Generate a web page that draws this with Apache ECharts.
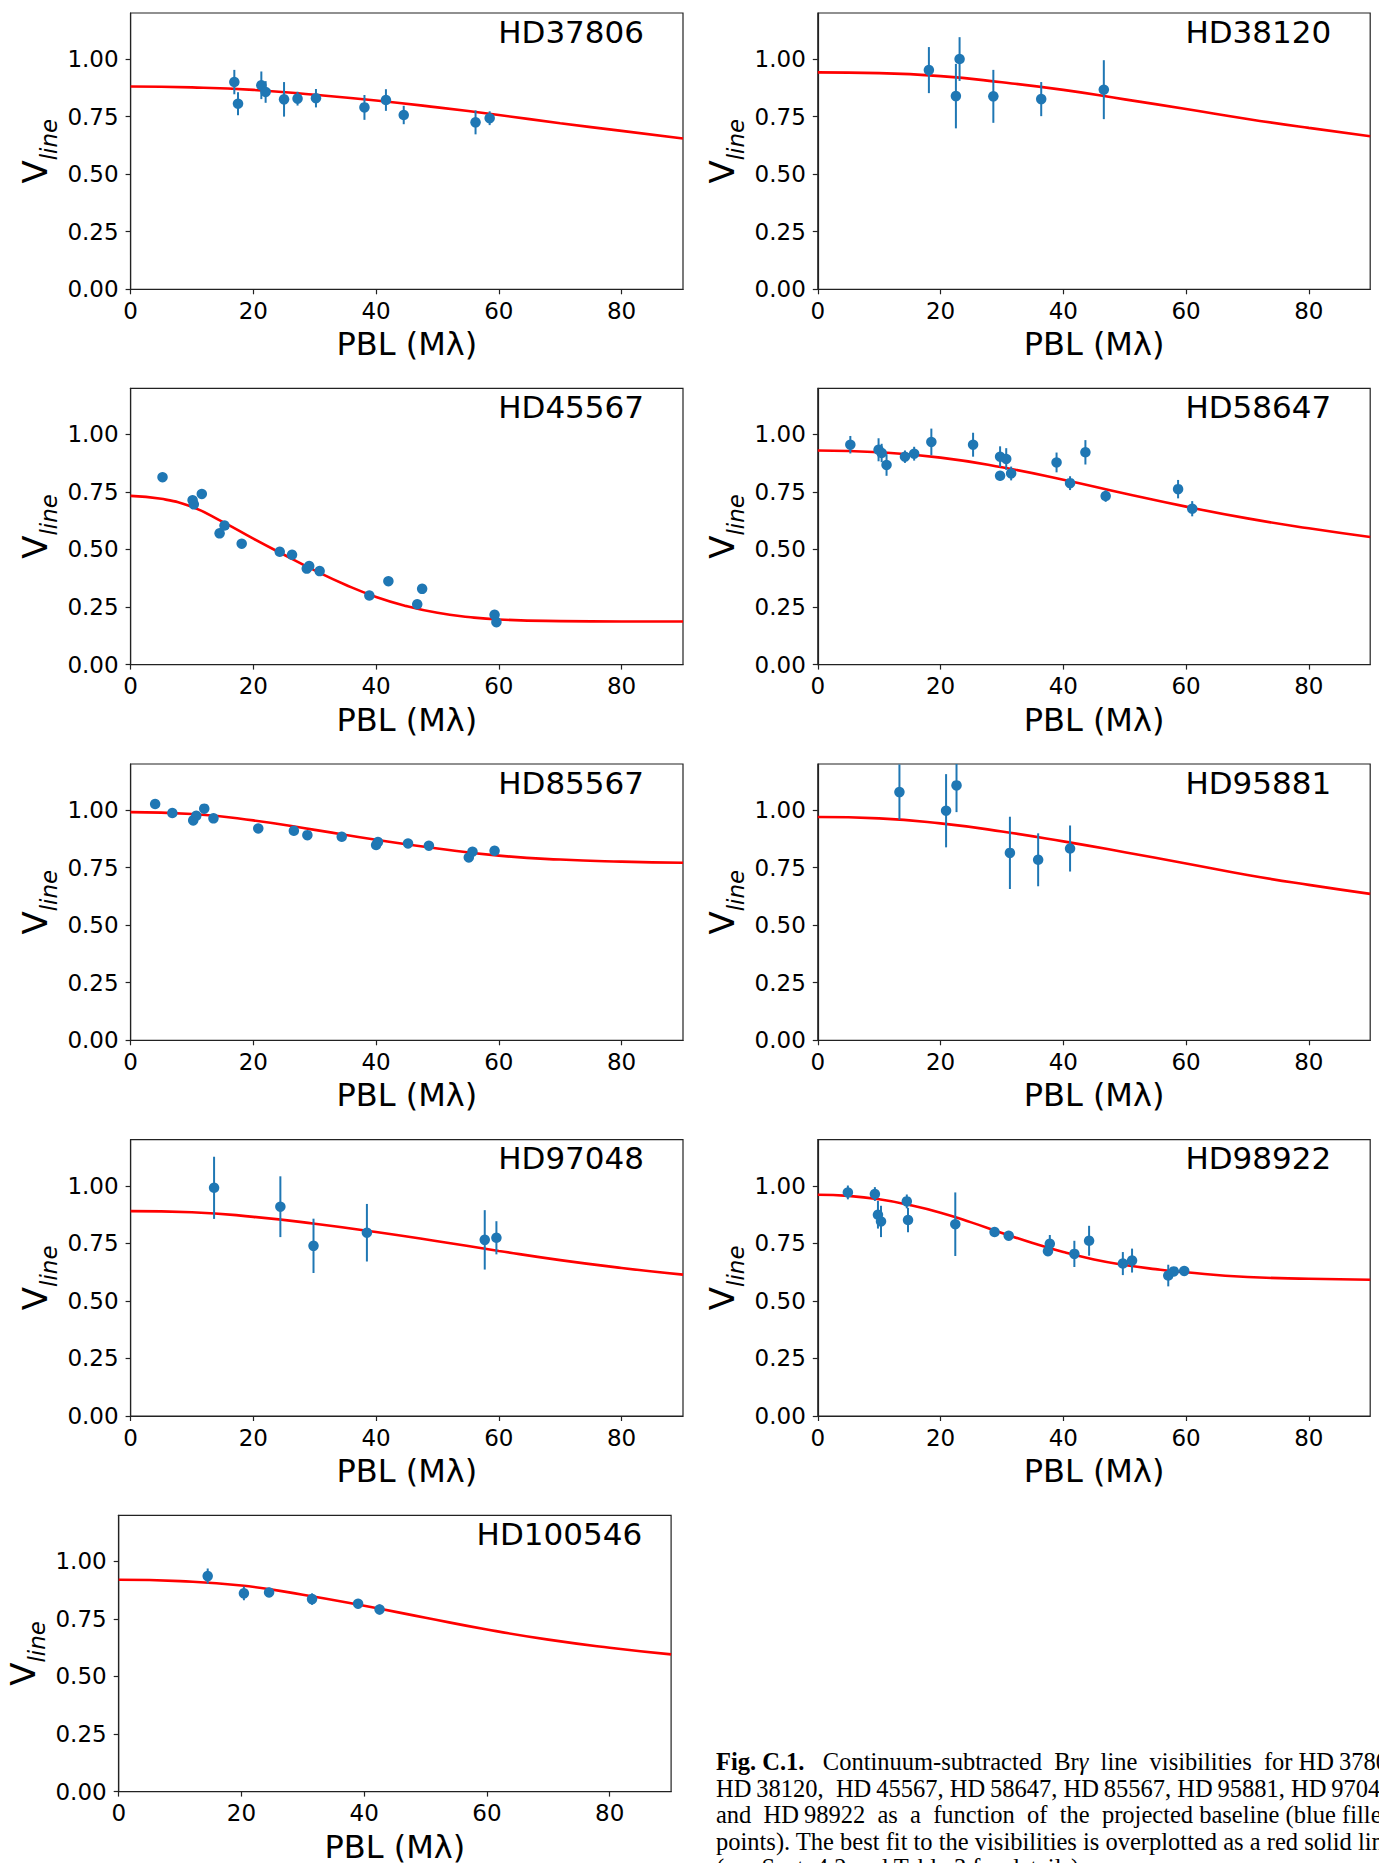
<!DOCTYPE html>
<html>
<head>
<meta charset="utf-8">
<script src="https://cdn.jsdelivr.net/npm/echarts@6/dist/echarts.min.js"></script>
<style>
html,body{margin:0;padding:0;background:#fff;}
#chart{width:1379px;height:1863px;}
</style>
</head>
<body>
<div id="chart"></div>
<script>
// ---------- tick values ----------
const xTicks = [0, 20, 40, 60, 80];
const yTicks = [0, 0.25, 0.5, 0.75, 1.0];
const fitX10 = [0, 10, 20, 30, 40, 50, 60, 70, 80, 90];
const fitX5 = [0, 5, 10, 15, 20, 25, 30, 35, 40, 45, 50, 55, 60, 70, 80, 90];

// ---------- HD37806 ----------
const hd37806_pbl = [16.9, 17.5, 21.3, 22.0, 25.0, 27.2, 30.2, 38.1, 41.6, 44.5, 56.2, 58.5];
const hd37806_v   = [0.900, 0.806, 0.886, 0.857, 0.825, 0.828, 0.830, 0.790, 0.822, 0.757, 0.725, 0.743];
const hd37806_err = [0.053, 0.050, 0.060, 0.047, 0.075, 0.030, 0.040, 0.054, 0.047, 0.040, 0.052, 0.030];
const hd37806_fit = [0.881, 0.877, 0.866, 0.845, 0.820, 0.790, 0.757, 0.721, 0.688, 0.655];

// ---------- HD38120 ----------
const hd38120_pbl = [18.1, 22.5, 23.1, 28.6, 36.4, 46.6];
const hd38120_v   = [0.952, 0.839, 1.000, 0.838, 0.826, 0.867];
const hd38120_err = [0.100, 0.140, 0.095, 0.115, 0.074, 0.128];
const hd38120_fit = [0.942, 0.939, 0.926, 0.899, 0.866, 0.825, 0.783, 0.740, 0.701, 0.665];

// ---------- HD45567 ----------
const hd45567_pbl = [5.2, 10.1, 10.3, 11.6, 14.5, 15.3, 18.1, 24.3, 26.3, 28.7, 29.1, 30.8, 38.9, 42.0, 46.7, 47.5, 59.3, 59.6];
const hd45567_v   = [0.814, 0.714, 0.696, 0.741, 0.570, 0.604, 0.525, 0.490, 0.477, 0.417, 0.428, 0.406, 0.300, 0.362, 0.262, 0.329, 0.216, 0.184];
const hd45567_fit = [0.733, 0.720, 0.685, 0.620, 0.547, 0.477, 0.409, 0.347, 0.294, 0.254, 0.225, 0.207, 0.196, 0.189, 0.187, 0.187];

// ---------- HD58647 ----------
const hd58647_pbl = [5.3, 9.9, 10.4, 11.2, 14.2, 15.7, 18.5, 25.3, 29.7, 29.7, 30.7, 31.5, 38.9, 41.1, 43.6, 46.9, 58.7, 61.0];
const hd58647_v   = [0.955, 0.933, 0.919, 0.867, 0.903, 0.916, 0.967, 0.955, 0.903, 0.820, 0.893, 0.830, 0.878, 0.788, 0.922, 0.732, 0.762, 0.677];
const hd58647_err = [0.038, 0.050, 0.040, 0.047, 0.027, 0.030, 0.058, 0.052, 0.045, 0.020, 0.047, 0.030, 0.043, 0.030, 0.053, 0.025, 0.040, 0.033];
const hd58647_fit = [0.930, 0.922, 0.899, 0.857, 0.803, 0.743, 0.686, 0.635, 0.592, 0.554];

// ---------- HD85567 ----------
const hd85567_pbl = [4.0, 6.8, 10.2, 10.7, 12.0, 13.5, 20.8, 26.6, 28.8, 34.4, 40.0, 40.3, 45.2, 48.6, 55.1, 55.7, 59.3];
const hd85567_v   = [1.026, 0.987, 0.955, 0.975, 1.006, 0.964, 0.920, 0.910, 0.891, 0.884, 0.848, 0.861, 0.855, 0.845, 0.794, 0.819, 0.823];
const hd85567_fit = [0.991, 0.983, 0.955, 0.914, 0.871, 0.833, 0.802, 0.785, 0.776, 0.771];

// ---------- HD95881 ----------
const hd95881_pbl = [13.3, 20.9, 22.6, 31.3, 35.9, 41.1];
const hd95881_v   = [1.078, 0.997, 1.107, 0.814, 0.784, 0.833];
const hd95881_err = [0.120, 0.159, 0.116, 0.157, 0.115, 0.100];
const hd95881_fit = [0.970, 0.964, 0.942, 0.907, 0.864, 0.817, 0.768, 0.718, 0.675, 0.636];

// ---------- HD97048 ----------
const hd97048_pbl = [13.6, 24.4, 29.8, 38.5, 57.7, 59.6];
const hd97048_v   = [0.991, 0.909, 0.739, 0.796, 0.765, 0.774];
const hd97048_err = [0.135, 0.132, 0.118, 0.125, 0.129, 0.072];
const hd97048_fit = [0.890, 0.885, 0.865, 0.835, 0.799, 0.759, 0.717, 0.677, 0.643, 0.614];

// ---------- HD98922 ----------
const hd98922_pbl = [4.9, 9.3, 9.8, 10.3, 14.5, 14.7, 22.4, 28.8, 31.1, 37.5, 37.8, 41.8, 44.2, 49.7, 51.2, 57.1, 58.0, 59.7];
const hd98922_v   = [0.971, 0.964, 0.874, 0.845, 0.932, 0.851, 0.833, 0.799, 0.783, 0.716, 0.748, 0.704, 0.761, 0.662, 0.675, 0.610, 0.628, 0.630];
const hd98922_err = [0.030, 0.030, 0.060, 0.068, 0.030, 0.053, 0.138, 0.018, 0.015, 0.020, 0.038, 0.057, 0.065, 0.050, 0.052, 0.047, 0.018, 0.015];
const hd98922_fit = [0.961, 0.956, 0.941, 0.916, 0.883, 0.841, 0.795, 0.751, 0.712, 0.680, 0.656, 0.638, 0.624, 0.604, 0.596, 0.592];

// ---------- HD100546 ----------
const hd100546_pbl = [14.5, 20.4, 24.5, 31.5, 39.0, 42.5];
const hd100546_v   = [0.936, 0.861, 0.865, 0.836, 0.816, 0.791];
const hd100546_err = [0.033, 0.030, 0.020, 0.025, 0.020, 0.022];
const hd100546_fit = [0.920, 0.914, 0.895, 0.855, 0.807, 0.755, 0.704, 0.660, 0.625, 0.596];

// ---------- caption ----------
const captionLines = [
  '{b|Fig. C.1.}   Continuum-subtracted  Br{i|γ}  line  visibilities  for HD\u200937806,',
  'HD\u200938120,  HD\u200945567, HD\u200958647, HD\u200985567, HD\u200995881, HD\u200997048,',
  'and  HD\u200998922  as  a  function  of  the  projected baseline (blue filled',
  'points). The best fit to the visibilities is overplotted as a red solid line',
  '(see Sect. 4.2 and Table 3 for details).'
];

// ---------- layout (styles/positions) ----------
const X_MIN = 0, X_MAX = 90, Y_MIN = 0, Y_MAX = 1.2;
const PW = 552.4, PH = 276.3;
const colLeft = [130.6, 817.8];
const rowTop = [13, 388.3, 764, 1139.7, 1515.3];
const BLUE = '#1f77b4', RED = '#ff0000', AX = '#222222';

const panels = [
  {name: 'HD37806',  x: hd37806_pbl,  v: hd37806_v,  err: hd37806_err,  fx: fitX10, fv: hd37806_fit,  left: colLeft[0], top: rowTop[0], tOff: 39},
  {name: 'HD38120',  x: hd38120_pbl,  v: hd38120_v,  err: hd38120_err,  fx: fitX10, fv: hd38120_fit,  left: colLeft[1], top: rowTop[0], tOff: 39},
  {name: 'HD45567',  x: hd45567_pbl,  v: hd45567_v,  err: null,         fx: fitX5,  fv: hd45567_fit,  left: colLeft[0], top: rowTop[1], tOff: 39},
  {name: 'HD58647',  x: hd58647_pbl,  v: hd58647_v,  err: hd58647_err,  fx: fitX10, fv: hd58647_fit,  left: colLeft[1], top: rowTop[1], tOff: 39},
  {name: 'HD85567',  x: hd85567_pbl,  v: hd85567_v,  err: null,         fx: fitX10, fv: hd85567_fit,  left: colLeft[0], top: rowTop[2], tOff: 39},
  {name: 'HD95881',  x: hd95881_pbl,  v: hd95881_v,  err: hd95881_err,  fx: fitX10, fv: hd95881_fit,  left: colLeft[1], top: rowTop[2], tOff: 39},
  {name: 'HD97048',  x: hd97048_pbl,  v: hd97048_v,  err: hd97048_err,  fx: fitX10, fv: hd97048_fit,  left: colLeft[0], top: rowTop[3], tOff: 39},
  {name: 'HD98922',  x: hd98922_pbl,  v: hd98922_v,  err: hd98922_err,  fx: fitX5,  fv: hd98922_fit,  left: colLeft[1], top: rowTop[3], tOff: 39},
  {name: 'HD100546', x: hd100546_pbl, v: hd100546_v, err: hd100546_err, fx: fitX10, fv: hd100546_fit, left: 118.7,       top: rowTop[4], tOff: 29}
];

const FONT = 'DejaVu Sans';
const SERIF = 'Liberation Serif';
const W = 1379;

const option = {
  animation: false,
  backgroundColor: '#ffffff',
  textStyle: {fontFamily: FONT},
  title: panels.map(p => ({
    text: p.name,
    right: W - (p.left + PW - p.tOff),
    top: p.top + 3,
    padding: 0,
    textStyle: {fontSize: 31, fontWeight: 'normal', color: '#000', fontFamily: FONT}
  })),
  grid: panels.map(p => ({
    left: p.left, top: p.top, width: PW, height: PH,
    show: true, borderColor: AX, borderWidth: 1.2, backgroundColor: 'transparent',
    containLabel: false, outerBoundsMode: 'none'
  })),
  xAxis: panels.map((p, i) => ({
    gridIndex: i, type: 'value', min: X_MIN, max: X_MAX,
    splitLine: {show: false},
    axisLine: {show: true, onZero: false, lineStyle: {color: AX, width: 1.2}},
    axisTick: {show: true, inside: false, length: 5, customValues: xTicks, lineStyle: {color: AX, width: 1.2}},
    axisLabel: {customValues: xTicks, fontSize: 23, color: '#000', margin: 10, fontFamily: FONT},
    name: 'PBL (Mλ)', nameLocation: 'middle', nameGap: 39,
    nameTextStyle: {fontSize: 32, color: '#000', fontFamily: FONT}
  })),
  yAxis: panels.map((p, i) => ({
    gridIndex: i, type: 'value', min: Y_MIN, max: Y_MAX,
    splitLine: {show: false},
    axisLine: {show: true, onZero: false, lineStyle: {color: AX, width: 1.2}},
    axisTick: {show: true, inside: false, length: 5, customValues: yTicks, lineStyle: {color: AX, width: 1.2}},
    axisLabel: {customValues: yTicks, fontSize: 23, color: '#000', margin: 12, fontFamily: FONT,
      formatter: v => v.toFixed(2)},
    name: '{v|V}{s|line}', nameLocation: 'middle', nameRotate: 90, nameGap: 70,
    nameTextStyle: {
      color: '#000', fontFamily: FONT,
      rich: {
        v: {fontSize: 34, fontFamily: FONT, color: '#000', verticalAlign: 'bottom', padding: [0, 0, 9, 0]},
        s: {fontSize: 23, fontFamily: FONT, fontStyle: 'italic', color: '#000', verticalAlign: 'bottom'}
      }
    }
  })),
  series: [],
  graphic: captionLines.map((t, k) => ({
    type: 'text', left: 716, top: 1749 + k * 26.5, silent: true,
    style: {
      text: t, fill: '#000', fontSize: 24.5, fontFamily: SERIF,
      rich: {
        b: {fontSize: 24.5, fontFamily: SERIF, fontWeight: 'bold', fill: '#000'},
        i: {fontSize: 24.5, fontFamily: SERIF, fontStyle: 'italic', fill: '#000'}
      }
    }
  }))
};

panels.forEach((p, i) => {
  // fit curve
  option.series.push({
    type: 'line', xAxisIndex: i, yAxisIndex: i,
    data: p.fx.map((xx, j) => [xx, p.fv[j]]),
    smooth: true, showSymbol: false, symbol: 'none',
    lineStyle: {color: RED, width: 2.6}, z: 3, silent: true
  });
  // error bars
  if (p.err) {
    option.series.push({
      type: 'custom', xAxisIndex: i, yAxisIndex: i,
      data: p.x.map((xx, j) => [xx, p.v[j], p.err[j]]),
      encode: {x: 0, y: 1},
      z: 4, silent: true,
      renderItem: (params, api) => {
        const xx = api.value(0), yy = api.value(1), e = api.value(2);
        const a = api.coord([xx, Math.min(yy + e, Y_MAX)]);
        const b = api.coord([xx, Math.max(yy - e, Y_MIN)]);
        return {type: 'line', shape: {x1: a[0], y1: a[1], x2: b[0], y2: b[1]},
                style: {stroke: BLUE, lineWidth: 2}};
      }
    });
  }
  // points
  option.series.push({
    type: 'scatter', xAxisIndex: i, yAxisIndex: i,
    data: p.x.map((xx, j) => [xx, p.v[j]]),
    symbol: 'circle', symbolSize: 10.5,
    itemStyle: {color: BLUE, opacity: 1}, z: 5, silent: true
  });
});

const chart = echarts.init(document.getElementById('chart'), null, {renderer: 'svg', width: 1379, height: 1863});
chart.setOption(option);
</script>
</body>
</html>
